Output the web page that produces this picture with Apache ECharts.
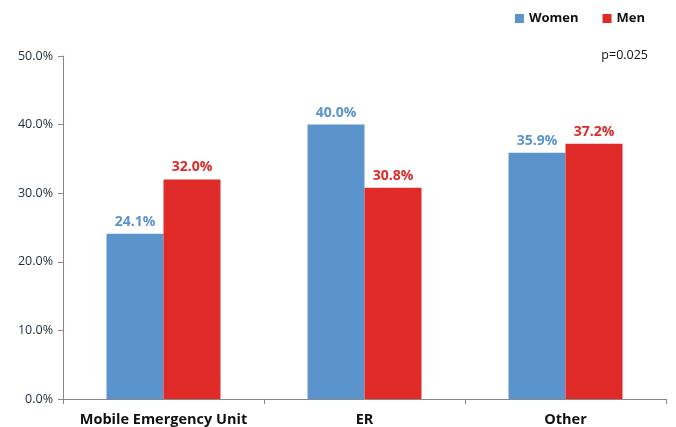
<!DOCTYPE html>
<html><head><meta charset="utf-8">
<script src="https://cdn.jsdelivr.net/npm/echarts@6/dist/echarts.min.js"></script>
<style>html,body{margin:0;padding:0;background:#fff}#c{width:676px;height:427px}</style>
</head><body><div id="c"></div>
<script>
const categories = ['Mobile Emergency Unit', 'ER', 'Other'];
const women = [24.1, 40.0, 35.9];
const men = [32.0, 30.8, 37.2];
const yTicks = [0, 10, 20, 30, 40, 50];
const pText = 'p=0.025';

const chart = echarts.init(document.getElementById('c'), null, {renderer: 'canvas'});
const FONT = 'Open Sans';
chart.setOption({
  animation: false,
  textStyle: {fontFamily: FONT},
  grid: {left: 63, right: 10, top: 56, bottom: 28},
  legend: {
    right: 26, top: 7, itemWidth: 9, itemHeight: 9, itemGap: 24,
    icon: 'rect',
    textStyle: {fontFamily: FONT, fontWeight: 'bold', fontSize: 13, color: '#111'},
    data: ['Women', 'Men']
  },
  graphic: [{type: 'text', right: 28, top: 49, style: {text: pText, font: '12.5px "Open Sans"', fill: '#111'}}],
  xAxis: {
    type: 'category', data: categories,
    axisLine: {lineStyle: {color: '#888', width: 1}},
    axisTick: {show: true, length: 5, lineStyle: {color: '#888'}},
    axisLabel: {interval: 0, fontFamily: FONT, fontWeight: 'bold', fontSize: 14.5, color: '#111', margin: 13}
  },
  yAxis: {
    type: 'value', min: yTicks[0], max: yTicks[yTicks.length - 1], interval: 10,
    axisLine: {show: true, lineStyle: {color: '#888', width: 1}},
    axisTick: {show: true, length: 5, lineStyle: {color: '#888'}},
    splitLine: {show: false},
    axisLabel: {fontFamily: FONT, fontSize: 12.5, color: '#1a2a3a', margin: 10, formatter: v => v.toFixed(1) + '%'}
  },
  series: [
    {name: 'Women', type: 'bar', data: women, barWidth: 57, barGap: '0%',
     itemStyle: {color: '#5b93cd'},
     label: {show: true, position: 'top', distance: 5, formatter: p => p.value.toFixed(1) + '%',
             fontFamily: FONT, fontWeight: 'bold', fontSize: 14, color: '#5b93cd'}},
    {name: 'Men', type: 'bar', data: men, barWidth: 57,
     itemStyle: {color: '#e02a27'},
     label: {show: true, position: 'top', distance: 5, formatter: p => p.value.toFixed(1) + '%',
             fontFamily: FONT, fontWeight: 'bold', fontSize: 14, color: '#e02a27'}}
  ]
});
</script></body></html>
